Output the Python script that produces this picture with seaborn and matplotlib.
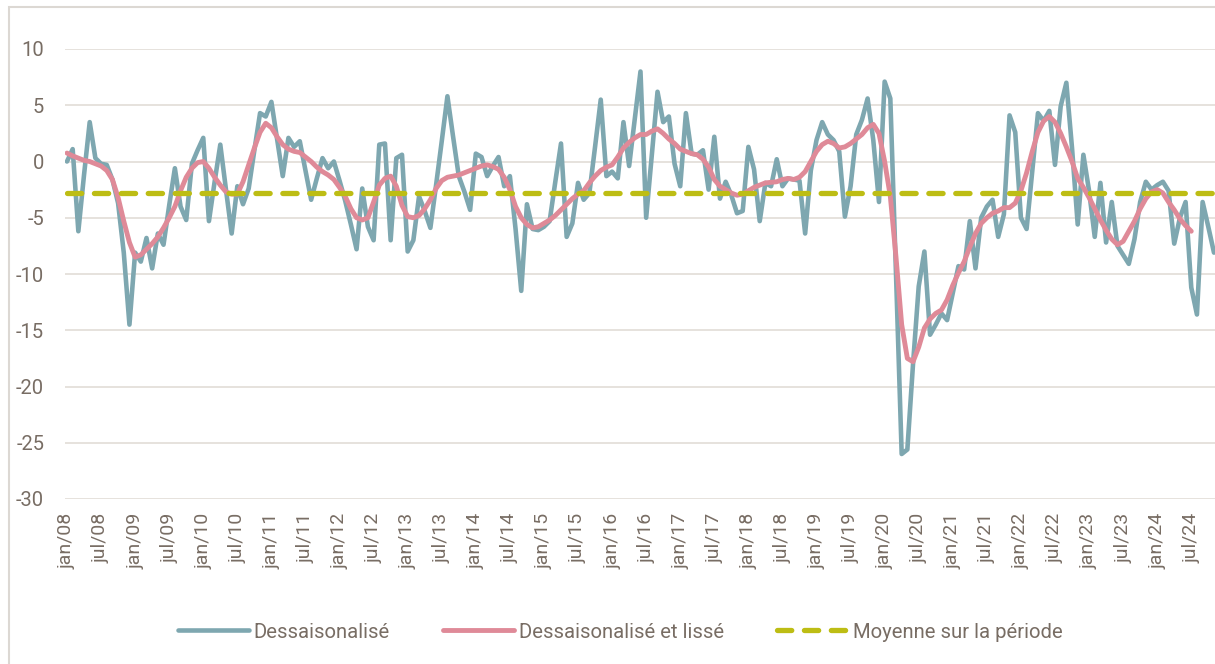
import matplotlib
matplotlib.use("Agg")
import matplotlib.pyplot as plt
from matplotlib.patches import Rectangle
import seaborn as sns
import pandas as pd
import numpy as np

# ---------------- data (monthly, jan/08 -> nov/24) ----------------
deseasonalised = [
    0.0, 1.1, -6.2, -1.2, 3.5, 0.3, -0.2, -0.3, -1.6, -3.7,
    -8.1, -14.5, -8.1, -8.9, -6.8, -9.5, -6.4, -7.4, -3.9, -0.6,
    -4.0, -5.2, -0.2, 1.0, 2.1, -5.3, -1.8, 1.5, -2.5, -6.4,
    -2.2, -3.8, -2.4, 1.0, 4.3, 4.0, 5.3, 2.0, -1.3, 2.1,
    1.3, 1.8, -0.8, -3.4, -1.5, 0.3, -0.6, 0.0, -1.7, -3.5,
    -5.6, -7.8, -2.4, -5.8, -7.0, 1.5, 1.6, -7.0, 0.3, 0.6,
    -8.0, -7.0, -3.1, -4.4, -5.9, -2.1, 1.8, 5.8, 2.2, -1.3,
    -2.7, -4.3, 0.7, 0.4, -1.3, -0.4, 0.4, -2.2, -1.3, -6.0,
    -11.5, -3.8, -6.0, -6.1, -5.8, -5.3, -1.8, 1.6, -6.7, -5.5,
    -1.9, -3.4, -2.8, 1.3, 5.5, -1.3, -0.9, -1.5, 3.5, -0.4,
    3.8, 8.0, -5.0, 0.6, 6.2, 3.5, 4.0, -0.2, -2.2, 4.3,
    0.7, 0.6, 1.0, -2.5, 2.2, -3.3, -1.8, -3.0, -4.6, -4.4,
    1.3, -0.7, -5.3, -1.9, -2.2, 0.2, -2.2, -1.5, -1.6, -1.7,
    -6.4, -0.8, 1.9, 3.5, 2.4, 1.9, 0.9, -4.9, -2.2, 2.4,
    3.7, 5.6, 1.9, -3.6, 7.1, 5.6, -10.0, -26.0, -25.6, -18.0,
    -11.1, -8.0, -15.4, -14.5, -13.5, -14.1, -11.7, -9.3, -9.6, -5.3,
    -9.5, -5.0, -4.0, -3.4, -6.7, -4.7, 4.1, 2.6, -5.0, -6.0,
    -0.8, 4.3, 3.6, 4.5, -0.3, 4.9, 7.0, 1.2, -5.6, 0.6,
    -2.6, -6.7, -1.9, -7.2, -3.6, -7.5, -8.3, -9.1, -6.9, -3.6,
    -1.8, -2.5, -2.1, -1.8, -2.6, -7.3, -5.0, -3.6, -11.2, -13.6,
    -3.6, -5.8, -8.1,
]

smoothed = [
    0.75, 0.5, 0.3, 0.1, 0.0, -0.2, -0.4, -0.8, -1.6, -3.2,
    -5.3, -7.2, -8.5, -8.3, -7.8, -7.3, -6.7, -5.9, -5.0, -4.0,
    -2.6, -1.4, -0.6, -0.1, 0.0, -0.6, -1.4, -2.1, -2.7, -2.9,
    -2.9, -1.8, -0.3, 1.2, 2.6, 3.4, 3.0, 2.2, 1.5, 1.1,
    0.9, 0.8, 0.4, 0.0, -0.5, -0.9, -1.2, -1.6, -2.3, -3.1,
    -4.2, -5.0, -5.2, -5.0, -3.6, -2.1, -1.5, -1.3, -2.2, -3.9,
    -4.9, -5.0, -4.8, -4.2, -3.4, -2.4, -1.7, -1.4, -1.3, -1.2,
    -1.0, -0.8, -0.6, -0.4, -0.3, -0.45, -0.7, -1.4, -2.5, -4.0,
    -5.0, -5.6, -5.9, -5.8, -5.5, -5.2, -4.8, -4.3, -3.8, -3.3,
    -2.9, -2.6, -1.9, -1.3, -0.8, -0.5, -0.3, 0.4, 1.2, 1.7,
    2.1, 2.4, 2.4, 2.7, 2.9, 2.5, 2.0, 1.6, 1.1, 0.9,
    0.7, 0.6, 0.2, -0.5, -1.6, -2.2, -2.5, -2.8, -3.0, -2.9,
    -2.6, -2.3, -2.1, -1.9, -1.85, -1.8, -1.6, -1.5, -1.6, -1.4,
    -0.9, 0.0, 0.9, 1.5, 1.8, 1.6, 1.2, 1.3, 1.6, 2.0,
    2.4, 3.0, 3.3, 2.5, 0.0, -3.1, -8.5, -14.5, -17.5, -17.8,
    -16.5, -14.8, -14.0, -13.5, -13.2, -12.3, -11.0, -9.9, -8.9, -7.6,
    -6.4, -5.5, -5.0, -4.6, -4.4, -4.1, -4.1, -3.7, -2.6, -1.0,
    0.9, 2.6, 3.6, 4.0, 3.5, 2.5, 1.3, 0.0, -1.5, -2.3,
    -3.2, -4.2, -5.2, -6.1, -6.9, -7.4, -7.1, -6.2, -5.3, -4.2,
    -3.3, -2.7, -2.5, -2.8, -3.6, -4.3, -5.1, -5.7, -6.2,
]

period_mean = -2.8

tick_months = list(range(0, 199, 6))
tick_labels = [f"{'jan' if i % 2 == 0 else 'jul'}/{8 + i // 2:02d}" for i in range(len(tick_months))]
y_ticks = [-30, -25, -20, -15, -10, -5, 0, 5, 10]

series_names = ["Dessaisonalisé", "Dessaisonalisé et lissé", "Moyenne sur la période"]

# ---------------- styling ----------------
BLUE = "#7ea7b0"
PINK = "#df8a98"
GREEN = "#bdbd14"
GRID = "#e4dfda"
TEXT = "#786d64"

sns.set_theme(style="white")
plt.rcParams["font.family"] = ["Roboto", "DejaVu Sans"]

W, H = 1215, 664
fig = plt.figure(figsize=(W / 100, H / 100), dpi=100)
ax = fig.add_axes([65 / W, 1 - 499 / H, 1150 / W, 450 / H])

months_blue = np.arange(len(deseasonalised))
months_pink = np.arange(len(smoothed))
df_blue = pd.DataFrame({"m": months_blue, "v": deseasonalised})
df_pink = pd.DataFrame({"m": months_pink, "v": smoothed})
df_mean = pd.DataFrame({"m": months_blue, "v": [period_mean] * len(months_blue)})

sns.lineplot(data=df_blue, x="m", y="v", ax=ax, color=BLUE, linewidth=3.3,
             label=series_names[0], zorder=2, solid_joinstyle="round", solid_capstyle="round")
sns.lineplot(data=df_pink, x="m", y="v", ax=ax, color=PINK, linewidth=3.5,
             label=series_names[1], zorder=3, solid_joinstyle="round", solid_capstyle="round")
sns.lineplot(data=df_mean, x="m", y="v", ax=ax, color=GREEN, linewidth=3.8,
             linestyle=(0, (2.7, 2.4)), dash_capstyle="round",
             label=series_names[2], zorder=4)

ax.set_xlim(-0.35, len(deseasonalised) - 1 + 0.18)
ax.set_ylim(-30, 10)
ax.set_yticks(y_ticks)
ax.set_yticklabels([str(v) for v in y_ticks])
ax.set_xticks(tick_months)
ax.set_xticklabels(tick_labels, rotation=90, ha="center", va="top")
ax.tick_params(axis="y", length=0, pad=15, labelsize=14.5, labelcolor=TEXT)
ax.tick_params(axis="x", length=0, pad=10, labelsize=14, labelcolor=TEXT)
ax.set_xlabel("")
ax.set_ylabel("")
ax.yaxis.grid(True, color=GRID, linewidth=1.3)
ax.xaxis.grid(False)
ax.set_axisbelow(True)
for s in ax.spines.values():
    s.set_visible(False)

leg = ax.legend(loc="center", bbox_to_anchor=(0.5103, 1 - 632 / H), bbox_transform=fig.transFigure,
                ncol=3, frameon=False, handlelength=3.5, handletextpad=0.25,
                columnspacing=2.6, fontsize=14.6)
for t in leg.get_texts():
    t.set_color(TEXT)

# outer light frame (left and top edges visible)
fig.patches.append(Rectangle((8.5 / W, -0.1), 1.2, 1 - 7.5 / H + 0.1, transform=fig.transFigure,
                             fill=False, edgecolor="#dcd8d3", linewidth=1.5, zorder=0))

fig.savefig("out.png", dpi=100)
